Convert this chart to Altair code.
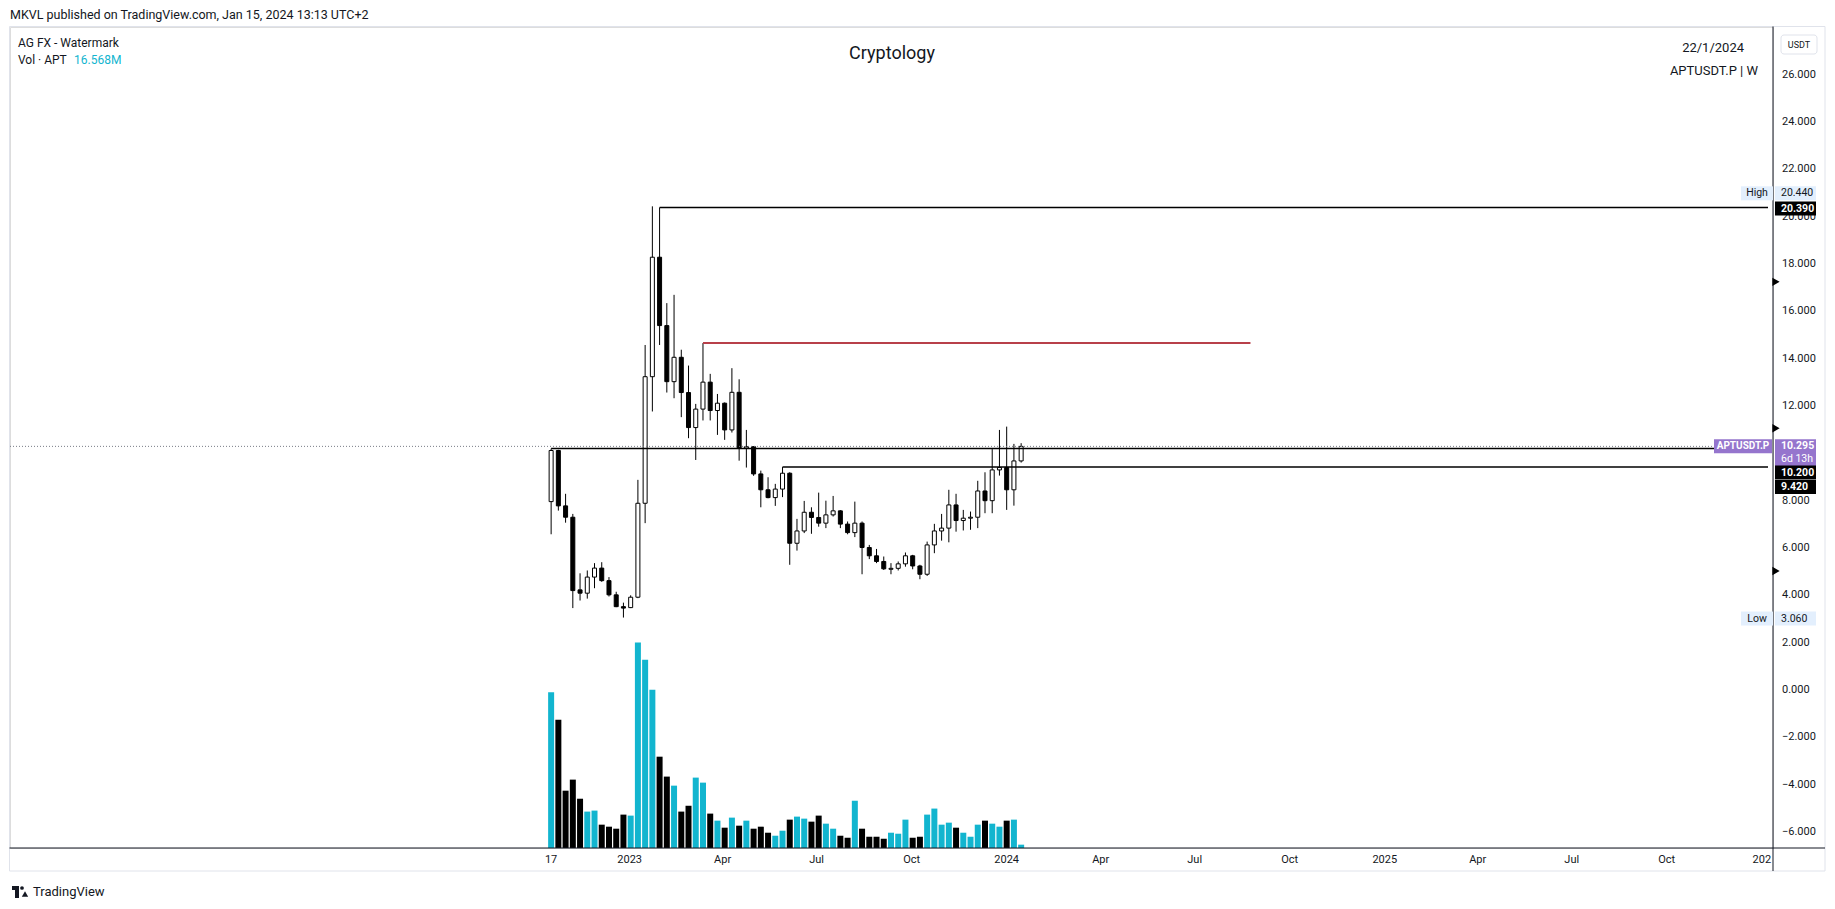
import altair as alt
import pandas as pd

FONT = "Roboto"
TXT = "#131722"
TEAL = "#12b5cf"
RED = "#b8404a"
PURPLE = "#9575cd"
TAGBLUE = "#e3effd"

# ---------------- data ----------------
START = "2022-10-17"
opens = [7.96, 10.12, 7.78, 7.30, 4.23, 4.09, 4.77, 5.15, 4.62, 4.02,
         3.52, 3.48, 3.92, 7.89, 13.24, 18.29, 15.40, 13.03, 14.06, 12.57,
         11.09, 11.87, 13.01, 11.81, 12.12, 10.99, 12.58, 10.22, 10.28, 9.13,
         8.46, 8.13, 8.49, 9.16, 6.20, 6.72, 7.51, 7.29, 7.05, 7.40,
         7.57, 7.01, 6.65, 7.05, 6.02, 5.67, 5.43, 5.10, 5.14, 5.33,
         5.67, 5.24, 4.89, 6.13, 6.72, 6.84, 7.82, 7.16, 7.26, 7.30,
         8.41, 8.00, 9.30, 9.40, 8.46, 9.68]
highs = [10.20, 10.15, 8.29, 7.44, 4.93, 5.05, 5.36, 5.40, 4.77, 4.15,
         3.69, 4.00, 8.88, 14.58, 20.44, 20.39, 16.35, 16.70, 14.38, 13.71,
         12.09, 14.66, 13.36, 12.51, 12.15, 13.60, 13.13, 10.99, 10.30, 9.27,
         8.99, 8.71, 9.42, 9.20, 7.23, 7.99, 7.72, 8.34, 8.00, 8.20,
         7.60, 7.12, 7.96, 7.12, 6.13, 5.96, 5.64, 5.36, 5.43, 5.81,
         5.71, 5.29, 6.27, 7.02, 7.44, 8.46, 8.29, 7.61, 7.54, 8.84,
         9.20, 10.18, 10.99, 11.13, 10.40, 10.43]
lows = [6.58, 7.58, 7.07, 3.46, 3.78, 3.86, 4.30, 4.57, 3.95, 3.50,
        3.06, 3.46, 3.88, 7.05, 11.77, 14.58, 12.57, 12.33, 11.53, 10.64,
        9.72, 11.39, 11.39, 10.78, 10.57, 10.88, 9.69, 9.40, 9.05, 7.72,
        8.10, 7.78, 8.15, 5.29, 5.89, 6.63, 6.60, 6.90, 6.84, 7.33,
        6.84, 6.58, 6.46, 4.89, 5.53, 5.36, 5.07, 4.89, 5.05, 5.21,
        5.10, 4.68, 4.82, 5.78, 6.31, 6.24, 6.69, 6.74, 6.77, 6.84,
        7.47, 7.47, 9.06, 7.61, 7.79, 9.61]
closes = [10.12, 7.78, 7.30, 4.20, 4.09, 4.77, 5.15, 4.62, 4.02, 3.52,
          3.46, 3.92, 7.89, 13.24, 18.29, 15.40, 13.03, 14.06, 12.57, 11.09,
          11.87, 13.01, 11.81, 12.12, 10.99, 12.58, 10.22, 10.28, 9.13, 8.46,
          8.13, 8.49, 9.16, 6.20, 6.72, 7.51, 7.29, 7.05, 7.40, 7.57,
          7.01, 6.65, 7.05, 6.02, 5.67, 5.43, 5.12, 5.14, 5.33, 5.67,
          5.24, 4.89, 6.13, 6.72, 6.84, 7.82, 7.16, 7.26, 7.30, 8.41,
          8.00, 9.30, 9.40, 8.46, 9.68, 10.295]
volumes_m = [774, 638, 285, 340, 245, 181, 186, 116, 106, 96,
             166, 161, 1022, 936, 787, 454, 355, 310, 181, 210,
             350, 325, 171, 136, 101, 151, 111, 136, 96, 106,
             76, 61, 86, 141, 156, 146, 131, 161, 121, 96,
             61, 51, 235, 96, 56, 56, 46, 76, 71, 141,
             51, 56, 166, 196, 116, 126, 101, 76, 56, 116,
             136, 121, 106, 136, 141, 16.568]

week_dates = list(pd.date_range(START, periods=len(opens), freq="7D").strftime("%Y-%m-%d"))
candles = pd.DataFrame(dict(date=week_dates, open=opens, high=highs, low=lows,
                            close=closes, vol=volumes_m))
candles["dir"] = ["up" if c >= o else "down" for o, c in zip(opens, closes)]

DOMAIN_START = "2021-05-16"
DOMAIN_END = "2026-01-07"
level_prices = [20.39, 10.20, 9.42]
level_start_idx = [15, 0, 32]
red_price = 14.66
red_start_idx = 21
red_end = "2024-08-24"
last_price = 10.295
marker_prices = [17.25, 11.06, 5.03]
price_ticks = [-6, -4, -2, 0, 2, 4, 6, 8, 12, 14, 16, 18, 20, 22, 24, 26]
time_tick_dates = ["2022-10-17", "2023-01-01", "2023-04-01", "2023-07-01", "2023-10-01",
                   "2024-01-01", "2024-04-01", "2024-07-01", "2024-10-01",
                   "2025-01-01", "2025-04-01", "2025-07-01", "2025-10-01", "2026-01-01"]
time_tick_labels = ["17", "2023", "Apr", "Jul", "Oct", "2024", "Apr", "Jul", "Oct",
                    "2025", "Apr", "Jul", "Oct", "202"]

# ---------------- layout ----------------
W, H = 1763, 821
P = alt.Scale(domain=[-6.68, 28.02], nice=False, zero=False)
X = alt.Scale(type="utc", nice=False,
              domain=[alt.DateTime(year=2021, month=5, date=16, utc=True),
                      alt.DateTime(year=2026, month=1, date=7, utc=True)])

one = pd.DataFrame({"a": [0]})

def txt(text, x, y, size=12, color=TXT, align="left", weight="normal"):
    return alt.Chart(one).mark_text(align=align, baseline="middle", fontSize=size, color=color,
                                    fontWeight=weight, font=FONT).encode(
        x=alt.value(x), y=alt.value(y), text=alt.value(text))

def tag_rect(price, x1, x2, color, shift=0, h=15):
    return alt.Chart(pd.DataFrame({"p": [price]})).mark_rect(
        color=color, yOffset=shift - h / 2, y2Offset=shift + h / 2).encode(
        x=alt.value(x1), x2=alt.value(x2),
        y=alt.Y("p:Q", scale=P, axis=None), y2="p:Q")

def tag_text(price, text, x, color, shift=0, size=10.5, weight="bold", align="left"):
    return alt.Chart(pd.DataFrame({"p": [price]})).mark_text(
        align=align, baseline="middle", fontSize=size, color=color, fontWeight=weight,
        font=FONT, dy=shift).encode(
        x=alt.value(x), y=alt.Y("p:Q", scale=P, axis=None), text=alt.value(text))

base = alt.Chart(candles)

# volume (own scale)
volume = base.mark_bar(size=6).encode(
    x=alt.X("date:T", scale=X, axis=None),
    y=alt.Y("vol:Q", scale=alt.Scale(domain=[0, 4082], nice=False), axis=None),
    color=alt.Color("dir:N", scale=alt.Scale(domain=["up", "down"], range=[TEAL, "#000000"]), legend=None),
)

wicks = base.mark_rule(color="#000000", strokeWidth=1).encode(
    x=alt.X("date:T", scale=X, axis=None),
    y=alt.Y("low:Q", scale=P, axis=None),
    y2="high:Q",
)
bodies = base.mark_bar(size=4, stroke="#000000", strokeWidth=1).encode(
    x=alt.X("date:T", scale=X, axis=None),
    y=alt.Y("open:Q", scale=P, axis=None),
    y2="close:Q",
    fill=alt.Fill("dir:N", scale=alt.Scale(domain=["up", "down"], range=["#ffffff", "#000000"]), legend=None),
)

levels = pd.DataFrame({"p": level_prices,
                       "start": [week_dates[i] for i in level_start_idx],
                       "end": [DOMAIN_END] * len(level_prices)})
level_lines = alt.Chart(levels).mark_rule(color="#000000", strokeWidth=1.5).encode(
    x=alt.X("start:T", scale=X, axis=None), x2="end:T",
    y=alt.Y("p:Q", scale=P, axis=None))

red = alt.Chart(pd.DataFrame({"p": [red_price], "start": [week_dates[red_start_idx]], "end": [red_end]})
                ).mark_rule(color=RED, strokeWidth=2).encode(
    x=alt.X("start:T", scale=X, axis=None), x2="end:T",
    y=alt.Y("p:Q", scale=P, axis=None))

dotted = alt.Chart(pd.DataFrame({"p": [last_price]})).mark_rule(
    color="#787b86", strokeWidth=1, strokeDash=[1, 2]).encode(
    x=alt.value(0), x2=alt.value(W), y=alt.Y("p:Q", scale=P, axis=None))

markers = alt.Chart(pd.DataFrame({"p": marker_prices})).mark_point(
    shape="triangle-right", filled=True, color="#000000", size=70, opacity=1).encode(
    x=alt.value(W + 3), y=alt.Y("p:Q", scale=P, axis=None))

# manual axes
price_labels = alt.Chart(pd.DataFrame({"v": price_ticks})).transform_calculate(
    lab="format(datum.v, '.3f')").mark_text(
    align="left", baseline="middle", fontSize=11, font=FONT, color=TXT).encode(
    x=alt.value(W + 9), y=alt.Y("v:Q", scale=P, axis=None), text="lab:N")

time_labels = alt.Chart(pd.DataFrame({"d": time_tick_dates, "lab": time_tick_labels})).mark_text(
    align="center", baseline="middle", fontSize=11, font=FONT, color=TXT).encode(
    x=alt.X("d:T", scale=X, axis=None), y=alt.value(H + 12), text="lab:N")

# frame / axis lines
frame = alt.Chart(one).mark_rect(fill="transparent", stroke="#e0e3eb", strokeWidth=1).encode(
    x=alt.value(-0.5), x2=alt.value(W + 52), y=alt.value(-0.5), y2=alt.value(H + 23))
vline = alt.Chart(one).mark_rule(color="#131722", strokeWidth=1).encode(
    x=alt.value(W), y=alt.value(-0.5), y2=alt.value(H + 23))
hline = alt.Chart(one).mark_rule(color="#131722", strokeWidth=1).encode(
    x=alt.value(-0.5), x2=alt.value(W + 52), y=alt.value(H))

# USDT box
usdt_box = alt.Chart(one).mark_rect(fill="#ffffff", stroke="#e0e3eb", cornerRadius=3).encode(
    x=alt.value(W + 8), x2=alt.value(W + 44), y=alt.value(8), y2=alt.value(27))

tags = [
    tag_rect(20.44, W - 32, W, TAGBLUE, shift=-13, h=14),
    tag_rect(20.44, W + 2, W + 43, TAGBLUE, shift=-13, h=14),
    tag_text(20.44, "High", W - 16, TXT, shift=-13, weight="normal", align="center"),
    tag_text(20.44, "20.440", W + 8, TXT, shift=-13, weight="normal"),
    tag_rect(20.39, W + 2, W + 43, "#000000", shift=1, h=14),
    tag_text(20.39, "20.390", W + 8, "#ffffff", shift=1),
    tag_rect(last_price, W - 59, W - 1, PURPLE, shift=0, h=14),
    tag_text(last_price, "APTUSDT.P", W - 30, "#ffffff", shift=0, size=10, align="center"),
    tag_rect(last_price, W + 2, W + 43, PURPLE, shift=6.5, h=27),
    tag_text(last_price, "10.295", W + 8, "#ffffff", shift=0),
    tag_text(last_price, "6d 13h", W + 8, "#ffffff", shift=13, weight="normal"),
    tag_rect(10.20, W + 2, W + 43, "#000000", shift=24, h=14),
    tag_text(10.20, "10.200", W + 8, "#ffffff", shift=24),
    tag_rect(9.42, W + 2, W + 43, "#000000", shift=20, h=14),
    tag_text(9.42, "9.420", W + 8, "#ffffff", shift=20),
    tag_rect(3.06, W - 32, W, TAGBLUE, shift=1, h=14),
    tag_rect(3.06, W + 2, W + 43, TAGBLUE, shift=1, h=14),
    tag_text(3.06, "Low", W - 16, TXT, shift=1, weight="normal", align="center"),
    tag_text(3.06, "3.060", W + 8, TXT, shift=1, weight="normal"),
]

texts = [
    txt("MKVL published on TradingView.com, Jan 15, 2024 13:13 UTC+2", 0, -12, size=12.5),
    txt("AG FX - Watermark", 8, 16, size=12),
    txt("Vol · APT", 8, 32.5, size=12),
    txt("16.568M", 64, 32.5, size=12, color=TEAL),
    txt("Cryptology", 882, 27, size=18, align="center"),
    txt("22/1/2024", 1734, 21, size=13, align="right"),
    txt("APTUSDT.P | W", 1748, 44, size=13, align="right"),
    txt("USDT", W + 26, 17.5, size=9, align="center"),
    txt("TradingView", 23, 865, size=13),
]

# small TradingView logo approximation
logo = [
    alt.Chart(one).mark_rect(color="#131722").encode(x=alt.value(2), x2=alt.value(9), y=alt.value(859), y2=alt.value(863)),
    alt.Chart(one).mark_rect(color="#131722").encode(x=alt.value(5), x2=alt.value(9), y=alt.value(859), y2=alt.value(871)),
    alt.Chart(one).mark_point(shape="circle", filled=True, color="#131722", size=14, opacity=1).encode(x=alt.value(12), y=alt.value(861)),
    alt.Chart(one).mark_point(shape="triangle-up", filled=True, color="#131722", size=40, opacity=1).encode(x=alt.value(15), y=alt.value(867)),
]

price_group = alt.layer(frame, price_labels, wicks, bodies, level_lines, red, dotted,
                        vline, hline, markers, time_labels, usdt_box, *tags, *texts, *logo)

chart = alt.layer(volume, price_group).resolve_scale(y="independent").properties(
    width=W, height=H,
    autosize=alt.AutoSizeParams(type="none"),
    padding={"left": 10, "top": 27, "right": 62, "bottom": 61},
).configure_view(stroke=None).configure(background="#ffffff")

chart.save("out.html", embed_options={"renderer": "svg", "actions": False})
